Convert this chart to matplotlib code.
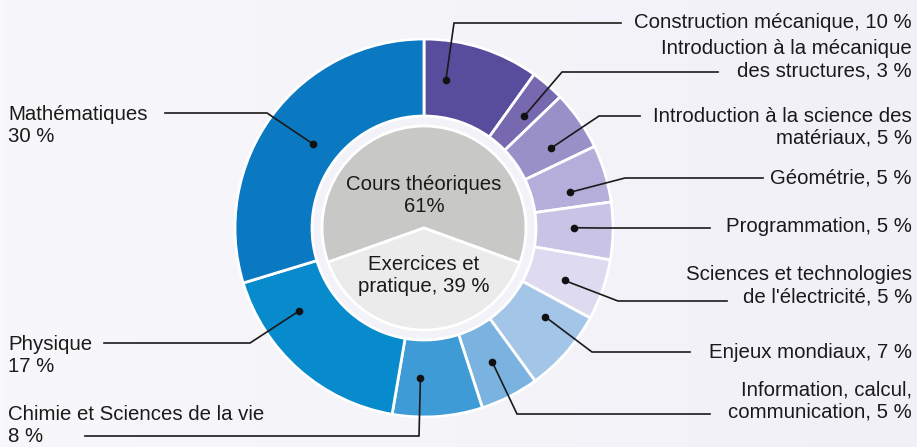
import numpy as np
import matplotlib
matplotlib.use("Agg")
import matplotlib.pyplot as plt
from matplotlib.colors import LinearSegmentedColormap

plt.rcParams['font.family'] = ['Liberation Sans', 'DejaVu Sans']

# outer ring: subjects (share of total)
subjects = ["Construction mécanique", "Introduction à la mécanique des structures",
            "Introduction à la science des matériaux", "Géométrie", "Programmation",
            "Sciences et technologies de l'électricité", "Enjeux mondiaux",
            "Information, calcul, communication", "Chimie et Sciences de la vie",
            "Physique", "Mathématiques"]
shares = [9.9, 2.9, 5.1, 4.9, 4.9, 5.2, 7.1, 5.0, 7.7, 17.6, 29.7]
shown_pct = [10, 3, 5, 5, 5, 5, 7, 5, 8, 17, 30]
label_texts = ["Construction mécanique, 10 %",
               "Introduction à la mécanique\ndes structures, 3 %",
               "Introduction à la science des\nmatériaux, 5 %",
               "Géométrie, 5 %",
               "Programmation, 5 %",
               "Sciences et technologies\nde l'électricité, 5 %",
               "Enjeux mondiaux, 7 %",
               "Information, calcul,\ncommunication, 5 %",
               "Chimie et Sciences de la vie\n8 %",
               "Physique\n17 %",
               "Mathématiques\n30 %"]
ring_colors = ["#584c9c", "#7769b0", "#9a90c8", "#b5aedb", "#c9c4e6", "#dedaf0",
               "#a3c6e8", "#7ab3e0", "#3f9bd5", "#078bcc", "#0a79c1"]

# inner pie: course type
kinds = ["Cours théoriques\n61%", "Exercices et\npratique, 39 %"]
kind_share = [61, 39]
kind_colors = ["#c8c8c6", "#ebebeb"]

W, H = 917, 447
FS = 14.7
def Y(y):
    return H - y

fig = plt.figure(figsize=(W / 100, H / 100), dpi=100)
ax = fig.add_axes([0, 0, 1, 1])

# soft background gradient
grad = np.linspace(0, 1, 256).reshape(1, -1)
bg = LinearSegmentedColormap.from_list("bg", ["#f8f8fb", "#f1f0f7"])
ax.imshow(grad, extent=[0, W, 0, H], cmap=bg, aspect='auto', zorder=0)

cx, cy = 424, Y(228)
R_out, R_in, R_core = 189, 112, 102

ax.add_patch(plt.Circle((cx, cy), R_out, color="#f3f2f8", zorder=0.5))

wedges, _ = ax.pie(shares, colors=ring_colors, startangle=90, counterclock=False,
                   radius=R_out, center=(cx, cy), frame=True,
                   wedgeprops=dict(width=R_out - R_in, edgecolor='white', linewidth=2))
inner, _ = ax.pie(kind_share, colors=kind_colors, startangle=-20, radius=R_core,
                  center=(cx, cy), frame=True,
                  wedgeprops=dict(edgecolor='white', linewidth=2))
ax.set_xlim(0, W)
ax.set_ylim(0, H)
ax.set_aspect('equal')
ax.axis('off')

ax.text(cx, Y(196), kinds[0], ha='center', va='center', fontsize=FS,
        color="#1a1a1a", linespacing=1.2)
ax.text(cx, Y(275), kinds[1], ha='center', va='center', fontsize=FS,
        color="#1a1a1a", linespacing=1.2)

# leader lines: angle offset of the dot, dot radius, elbow (px), end of horizontal, text y, side
layout = [
    (9.4, 150, (454, 23), 621, 22, 'r'),
    (-1.0, 150, (562, 72), 718, 60, 'r'),
    (-2.6, 150, (599, 116), 640, 127.5, 'r'),
    (-3.0, 150, (625, 178), 763, 178, 'r'),
    (1.0, 150, (600, 228), 710, 226, 'r'),
    (-1.4, 150, (618, 301), 727, 286, 'r'),
    (5.0, 150, (592, 352), 690, 352, 'r'),
    (0.0, 150, (517, 414), 710, 401.5, 'r'),
    (-5.5, 150, (419, 436), 85, 425, 'l'),
    (-15.0, 150, (250, 343), 104, 355, 'l'),
    (-0.6, 139, (267, 113), 165, 125.5, 'l'),
]
for w, txt, (off, r_dot, elbow, xend, ty, side) in zip(wedges, label_texts, layout):
    ang = np.deg2rad((w.theta1 + w.theta2) / 2 + off)
    dx, dy = cx + r_dot * np.cos(ang), cy + r_dot * np.sin(ang)
    ex, ey = elbow
    ax.plot([dx, ex, xend], [dy, Y(ey), Y(ey)], color="#1a1a1a", lw=1.2,
            solid_joinstyle='miter', zorder=5)
    ax.plot(dx, dy, 'o', color="#111111", ms=4.5, zorder=6)
    if side == 'r':
        ax.text(912, Y(ty), txt, ha='right', va='center', fontsize=FS,
                color="#1a1a1a", linespacing=1.2, multialignment='right')
    else:
        ax.text(8, Y(ty), txt, ha='left', va='center', fontsize=FS,
                color="#1a1a1a", linespacing=1.2)

fig.savefig("out.png", dpi=100)
